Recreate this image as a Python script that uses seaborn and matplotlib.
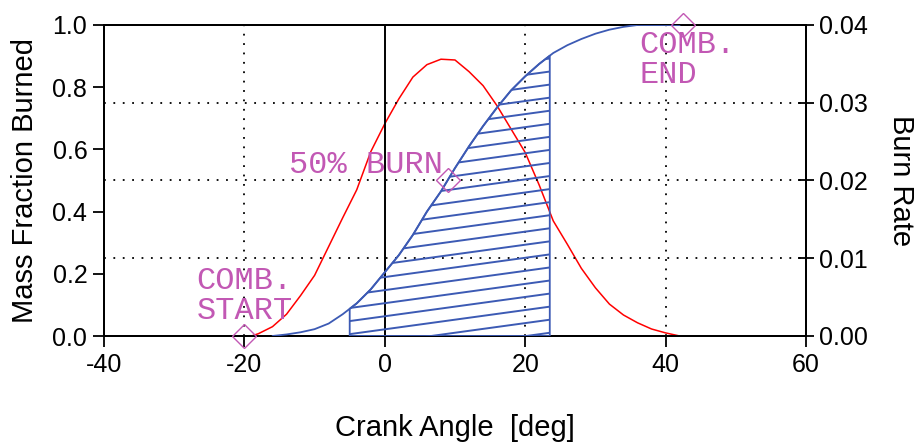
import numpy as np
import pandas as pd
import matplotlib
matplotlib.use("Agg")
import matplotlib.pyplot as plt
import seaborn as sns

# ---- data ----
mfb_angle = [-16, -14, -12, -10, -8, -6, -4, -2, 0, 2, 4, 6, 8, 10, 12, 14, 16,
             18, 20, 22, 24, 26, 28, 30, 32, 34, 36, 42]
mfb_value = [0.0, 0.005, 0.012, 0.022, 0.040, 0.070, 0.105, 0.150, 0.205, 0.260,
             0.325, 0.400, 0.465, 0.540, 0.610, 0.675, 0.735, 0.790, 0.835,
             0.875, 0.910, 0.935, 0.955, 0.972, 0.985, 0.994, 1.0, 1.0]

rate_angle = [-19, -18, -16, -14, -12, -10, -8, -6, -4, -2, 0, 2, 4, 6, 8, 10,
              12, 14, 16, 18, 20, 22, 24, 26, 28, 30, 32, 34, 36, 38, 40, 42]
rate_value = [0.0, 0.0003, 0.0012, 0.0028, 0.0052, 0.0078, 0.0115, 0.0152,
              0.0188, 0.0237, 0.0273, 0.0305, 0.0333, 0.0349, 0.0356, 0.0355,
              0.0340, 0.0322, 0.0296, 0.0266, 0.0236, 0.0194, 0.0148, 0.0118,
              0.0087, 0.0062, 0.0041, 0.0027, 0.0017, 0.0009, 0.0004, 0.0]

hatch_start, hatch_end = -5.0, 23.5          # 10% .. 90% burn

marker_angle = [-20, 9, 42.5]
marker_mfb = [0.0, 0.5, 1.0]
marker_text = ["COMB.\nSTART", "50% BURN", "COMB.\nEND"]

x_ticks = [-40, -20, 0, 20, 40, 60]
y_ticks = [0.0, 0.2, 0.4, 0.6, 0.8, 1.0]
y2_ticks = [0.00, 0.01, 0.02, 0.03, 0.04]

# ---- styling ----
sns.set_theme(style="white")
plt.rcParams['font.family'] = ['Liberation Sans', 'DejaVu Sans']

BLUE = '#3c5ab4'
RED = '#ff0000'
MAG = '#c258b4'

fig = plt.figure(figsize=(9.14, 4.42), dpi=100)
ax = fig.add_axes([104/914, 1-336/442, (806-104)/914, (336-25)/442])
ax2 = ax.twinx()

mfb_df = pd.DataFrame({"angle": mfb_angle, "mfb": mfb_value})
rate_df = pd.DataFrame({"angle": rate_angle, "rate": rate_value})

# grid (dotted)
dot = (0, (1, 4.2))
for gx in [-20, 20, 40]:
    ax.axvline(gx, color='black', lw=1.3, ls=dot, zorder=1)
for gy in [0.25, 0.5, 0.75]:
    ax.axhline(gy, color='black', lw=1.3, ls=dot, zorder=1)
ax.axvline(0, color='black', lw=1.4, zorder=1)

# mass fraction burned
sns.lineplot(data=mfb_df, x="angle", y="mfb", ax=ax, color=BLUE, lw=1.3,
             zorder=3, legend=False)

# hatched 10-90% region
xa = np.array(mfb_angle, dtype=float)
ya = np.array(mfb_value, dtype=float)
inner = (xa > hatch_start) & (xa < hatch_end)
xf = np.concatenate([[hatch_start], xa[inner], [hatch_end]])
yf = np.concatenate([[np.interp(hatch_start, xa, ya)], ya[inner],
                     [np.interp(hatch_end, xa, ya)]])
poly = ax.fill_between(xf, 0, yf, facecolor='none', edgecolor=BLUE, lw=1.3,
                       zorder=3)
clip_path = poly.get_paths()[0]
slope = 0.0031
spacing = 0.042
hx = np.array([hatch_start, hatch_end])
for c in np.arange(-0.12, 1.0, spacing):
    ln, = ax.plot(hx, c + slope * (hx - hatch_start), color=BLUE, lw=1.4,
                  zorder=3)
    ln.set_clip_path(clip_path, poly.get_transform())

# burn rate on right axis
sns.lineplot(data=rate_df, x="angle", y="rate", ax=ax2, color=RED, lw=1.1,
             zorder=4, legend=False)

# markers
ax.plot(marker_angle, marker_mfb, ls='none', marker='D', ms=12.5, mfc='none',
        mec=MAG, mew=1.0, zorder=5, clip_on=False)
mono = ['Liberation Mono', 'DejaVu Sans Mono']
ax.text(-26.8, 0.130, marker_text[0], color=MAG, fontsize=23, family=mono,
        ha='left', va='center', linespacing=1.0, zorder=6)
ax.text(8.3, 0.55, marker_text[1], color=MAG, fontsize=23, family=mono,
        ha='right', va='center', zorder=6)
ax.text(36.3, 0.887, marker_text[2], color=MAG, fontsize=23, family=mono,
        ha='left', va='center', linespacing=1.0, zorder=6)

# axes
ax.set_xlim(-40, 60)
ax.set_ylim(0, 1)
ax2.set_ylim(0, 0.04)
ax.set_xticks(x_ticks)
ax.set_yticks(y_ticks)
ax2.set_yticks(y2_ticks)
ax.set_xticklabels([str(t) for t in x_ticks])
ax.set_yticklabels([f"{t:.1f}" for t in y_ticks])
ax2.set_yticklabels([f"{t:.2f}" for t in y2_ticks])

ax.set_zorder(ax2.get_zorder() + 1)
ax.patch.set_visible(False)

for a in (ax, ax2):
    for s in a.spines.values():
        s.set_color('black')
        s.set_linewidth(1.4)
        s.set_visible(True)
ax.tick_params(axis='both', direction='out', length=8, width=1.3,
               labelsize=18, colors='black', pad=4, bottom=True, left=True)
ax2.tick_params(axis='y', direction='inout', length=11, width=1.3,
                labelsize=18, colors='black', pad=4, right=True)

ax.set_xlabel("Crank Angle  [deg]", fontsize=21, labelpad=27, color='black')
ax.set_ylabel("Mass Fraction Burned", fontsize=21, labelpad=10, color='black')
ax2.set_ylabel("Burn Rate", fontsize=21, rotation=270, labelpad=34,
               color='black')

fig.savefig("out.png", dpi=100)
